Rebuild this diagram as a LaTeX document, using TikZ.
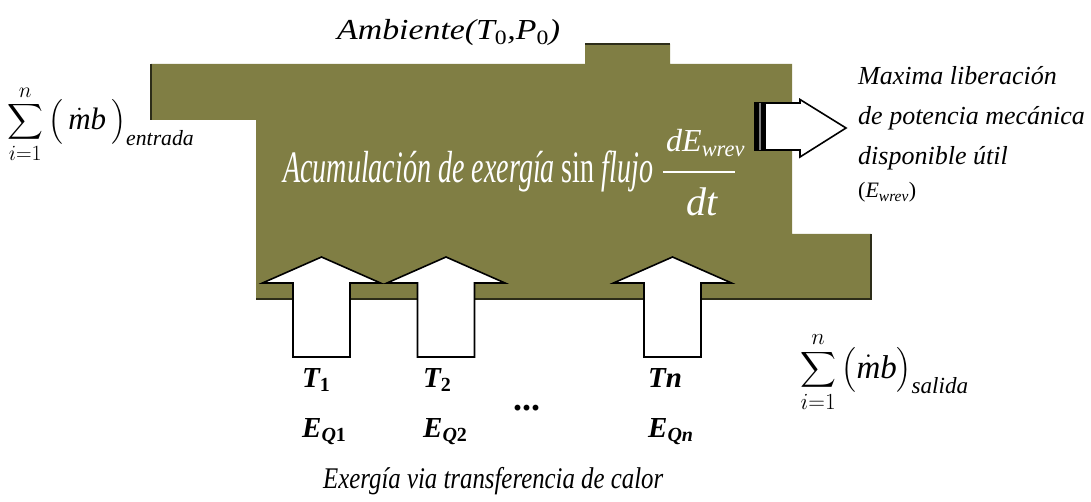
\RequirePackage{fix-cm}
\documentclass[tikz,border=0pt]{standalone}
\usepackage{amsmath}
\usepackage{exscale}
\usepackage{fontspec}
\setmainfont{Liberation Serif}
\usepackage{graphicx}
\definecolor{olivebox}{RGB}{128,126,68}
\definecolor{oliveedge}{RGB}{45,45,25}
\newcommand{\lowidx}[1]{\raisebox{-0.35ex}{\fontsize{20}{20}\selectfont #1}}
\tikzset{
  body/.style={fill=olivebox},
  bodyedge/.style={draw=oliveedge, line width=1.6pt},
  arrowbody/.style={draw=black, fill=white, line width=1.6pt, line join=miter},
  lbl/.style={inner sep=0pt, anchor=base west},
  rtext/.style={lbl, font=\fontsize{26}{26}\selectfont\itshape},
  tlbl/.style={lbl, font=\fontsize{29}{29}\selectfont\bfseries\itshape},
  sumlbl/.style={inner sep=0pt, anchor=west},
  uparrow/.pic={
    \draw[arrowbody] (-28.5,357) -- (-28.5,283) -- (-59,283) -- (0,257)
      -- (59,283) -- (28.5,283) -- (28.5,357) -- cycle;
  }
}
\begin{document}
\begin{tikzpicture}[x=1pt,y=-1pt]
\useasboundingbox (0,0) rectangle (1091,502);

% control volume
\fill[body] (151,64) -- (585,64) -- (585,44) -- (670,44) -- (670,64) -- (792,64)
  -- (792,234) -- (871,234) -- (871,299) -- (256,299) -- (256,120) -- (151,120) -- cycle;
\draw[bodyedge] (151,120) -- (151,64);
\draw[bodyedge] (585,44) -- (670,44);
\draw[bodyedge] (871,234) -- (871,299) -- (256,299);

% heat inflows
\path (321.5,0) pic {uparrow};
\path (446,0) pic {uparrow};
\path (672.5,0) pic {uparrow};

% work outflow
\draw[arrowbody] (765,103) -- (800,103) -- (800,99.5) -- (846,128) -- (800,157)
  -- (800,150) -- (765,150) -- cycle;
\fill[black] (754,102) rectangle (765,151);
\draw[gray, line width=2pt] (760,103) -- (760,150);

% labels
\node[lbl, font=\fontsize{29}{29}\selectfont\itshape] (amb) at (337,40)
  {\resizebox{223pt}{\height}{Ambiente(\textit{T}\textsubscript{\upshape 0},\textit{P}\textsubscript{\upshape 0})}};

\node[sumlbl, font=\fontsize{31}{31}\selectfont] (sin) at (7,124)
  {$\displaystyle\sum_{i=1}^{n}\big(\,\dot{\textit{m}}\textit{b}\,\big)_{\textit{entrada}}$};
\node[sumlbl, font=\fontsize{33}{33}\selectfont] (sout) at (800,372)
  {$\displaystyle\sum_{i=1}^{n}\big(\dot{\textit{m}}\textit{b}\big)_{\textit{salida}}$};

\node[lbl, text=white, font=\fontsize{45}{45}\selectfont] (acc) at (283,183)
  {\resizebox{370pt}{\height}{\textit{Acumulación de exergía} sin \textit{flujo}}};
\node[lbl, text=white, font=\fontsize{32}{32}\selectfont\itshape] (num) at (666,152)
  {dE\textsubscript{wrev}};
\draw[white, line width=1.5pt] (663,172) -- (735,172);
\node[lbl, text=white, font=\fontsize{40}{40}\selectfont\itshape] (den) at (686,216) {dt};

\node[rtext] (ml1) at (858,85) {Maxima liberación};
\node[rtext] (ml2) at (858,125) {de potencia mecánica};
\node[rtext] (ml3) at (858,165) {disponible útil};
\node[lbl, font=\fontsize{22}{22}\selectfont] (ml4) at (858,198)
  {(\textit{E}\textsubscript{\itshape wrev})};

\node[tlbl] (t1) at (302,387) {T\lowidx{\upshape 1}};
\node[tlbl] (e1) at (302,437) {E\lowidx{Q\upshape 1}};
\node[tlbl] (t2) at (423,387) {T\lowidx{\upshape 2}};
\node[tlbl] (e2) at (423,437) {E\lowidx{Q\upshape 2}};
\node[lbl, font=\fontsize{36}{36}\selectfont\bfseries] (dots) at (513,410) {...};
\node[tlbl] (tn) at (648,387) {Tn};
\node[tlbl] (en) at (648,437) {E\lowidx{Qn}};

\node[lbl, font=\fontsize{30}{30}\selectfont\itshape] (heat) at (323,488)
  {\resizebox{340pt}{\height}{Exergía via transferencia de calor}};
\end{tikzpicture}
\end{document}
